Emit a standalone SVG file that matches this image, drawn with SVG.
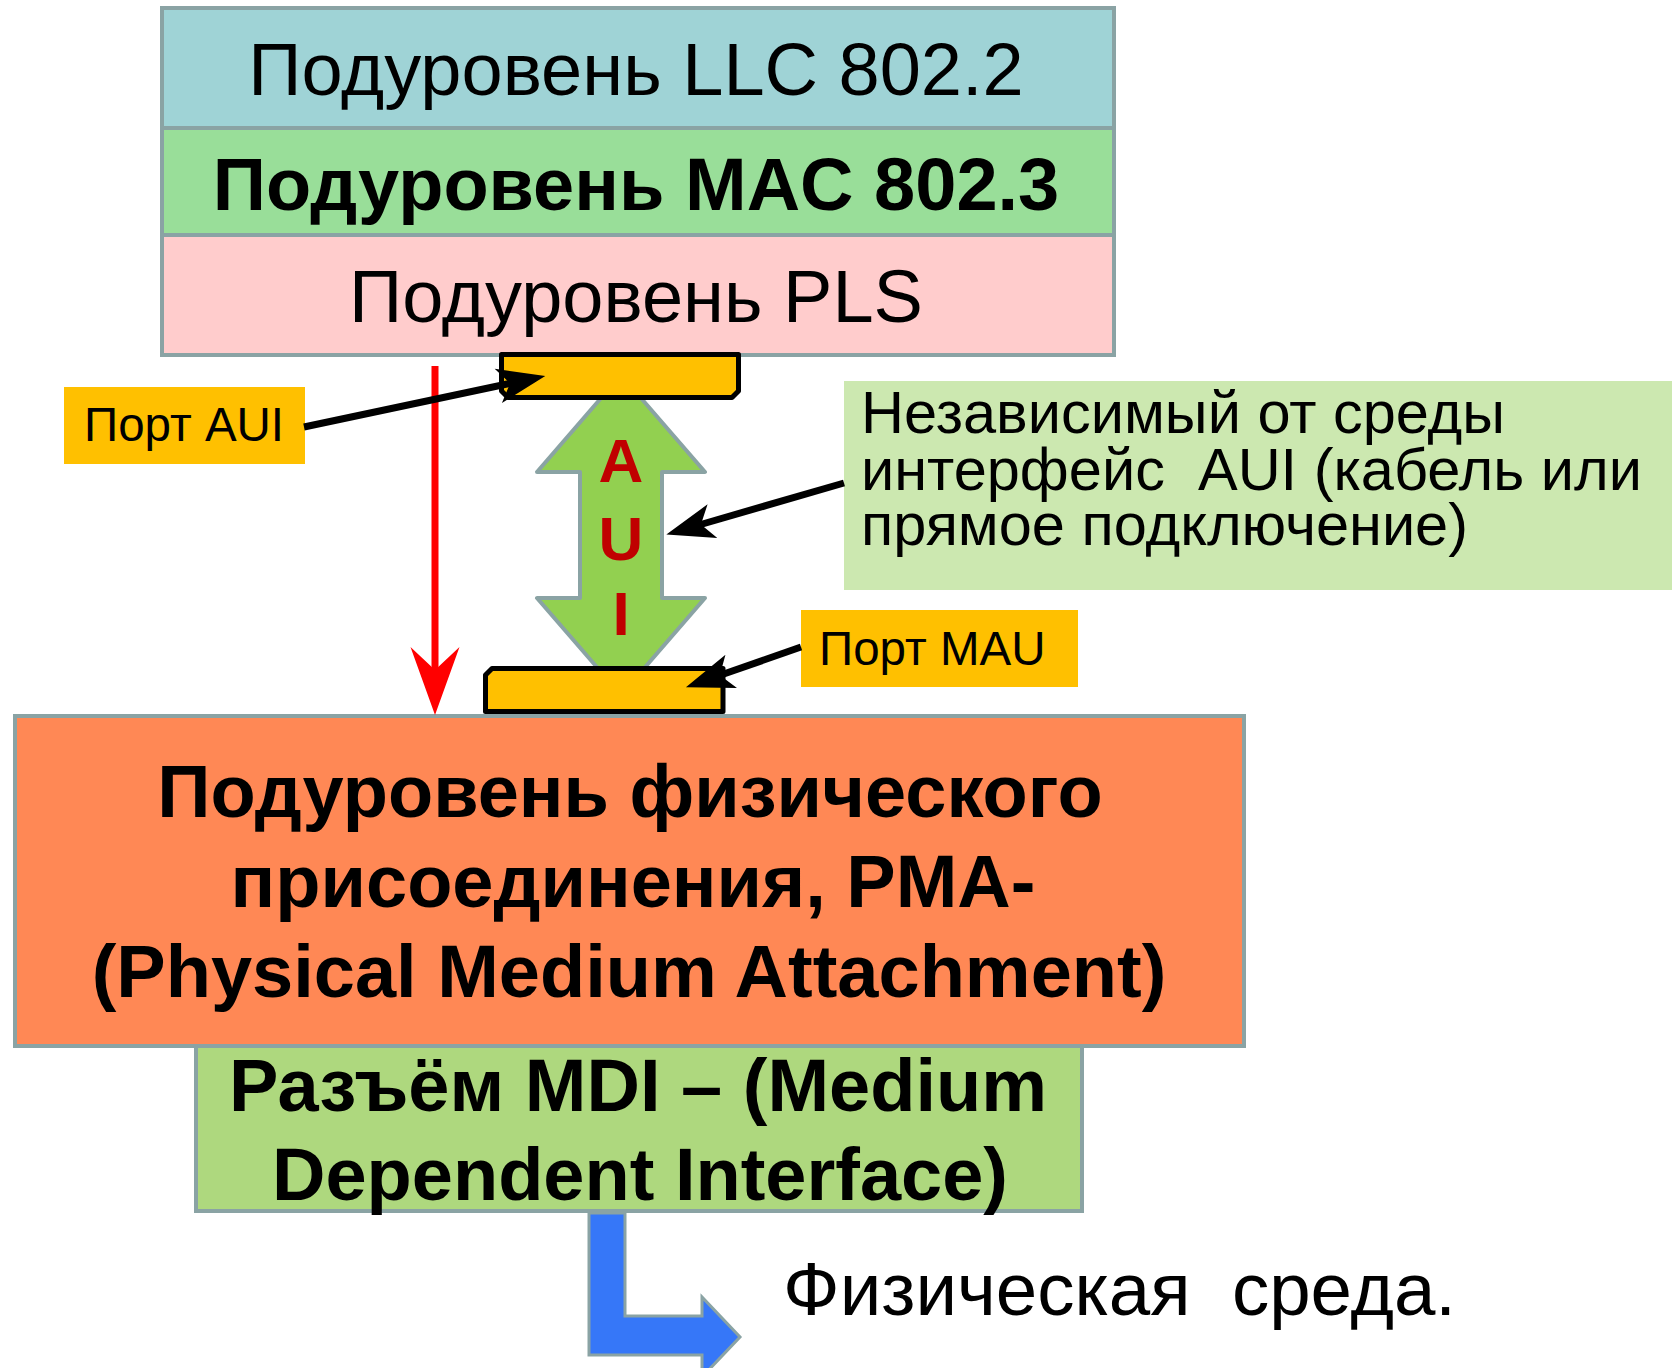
<svg xmlns="http://www.w3.org/2000/svg" width="1672" height="1368" viewBox="0 0 1672 1368">
<style>
text{font-family:"Liberation Sans",Arial,sans-serif;fill:#000}
.big{font-size:74px}
.b{font-weight:bold}
.mid{text-anchor:middle}
.box{stroke:#8AA3A4;stroke-width:4}
.port{fill:#FFC000;stroke:#000;stroke-width:5;stroke-linejoin:round}
.lbl{font-size:47.5px}
.co{font-size:59.5px}
.blk{stroke:#000;stroke-width:7;fill:none}
.aui{font-size:62px;font-weight:bold;fill:#C00000;text-anchor:middle}
</style>
<defs>
<marker id="ah" markerUnits="userSpaceOnUse" orient="auto" overflow="visible" markerWidth="10" markerHeight="10" refX="0" refY="0">
<path d="M34,0 L-14,-17.5 L-2,0 L-14,17.5 Z" fill="#000"/>
</marker>
<marker id="rh" markerUnits="userSpaceOnUse" orient="auto" overflow="visible" markerWidth="10" markerHeight="10" refX="0" refY="0">
<path d="M40,0 L-28,-24.5 L-5,0 L-28,24.5 Z" fill="#FF0000"/>
</marker>
</defs>

<g id="llc">
<rect class="box" x="162" y="8" width="952" height="120" fill="#9FD3D6"/>
<text class="big mid" x="636" y="95">Подуровень LLC 802.2</text>
</g>
<g id="mac">
<rect class="box" x="162" y="128" width="952" height="107" fill="#99DE99"/>
<text class="big b mid" x="636" y="210">Подуровень MAC 802.3</text>
</g>
<g id="pls">
<rect class="box" x="162" y="235" width="952" height="120" fill="#FFCCCC"/>
<text class="big mid" x="636" y="322">Подуровень PLS</text>
</g>

<g id="aui-arrow">
<polygon points="621,375 705,472 662,472 662,598 705,598 621,695 537,598 580,598 580,472 537,472" fill="#92D050" stroke="#8AA3A4" stroke-width="4" stroke-linejoin="round"/>
<text class="aui" x="621" y="482">A</text>
<text class="aui" x="621" y="560">U</text>
<text class="aui" x="621" y="635">I</text>
</g>

<g id="port-aui-bar">
<path class="port" d="M501.5,354.5 H738.5 V391 L732,397.5 H508 L501.5,391 Z"/>
</g>
<g id="port-mau-bar">
<path class="port" d="M492,668.5 H723 V711.5 H485.5 V675 Z"/>
</g>

<g id="pma">
<rect class="box" x="15" y="716" width="1229" height="330" fill="#FF8855"/>
<text class="big b mid" x="630" y="817">Подуровень физического</text>
<text class="big b mid" x="633" y="907">присоединения, PMA-</text>
<text class="big b mid" x="629" y="997">(Physical Medium Attachment)</text>
</g>

<g id="mdi">
<rect class="box" x="196" y="1046" width="886" height="165" fill="#AED87E"/>
<text class="big b mid" x="638" y="1111">Разъём MDI – (Medium</text>
<text class="big b mid" x="640" y="1200">Dependent Interface)</text>
</g>

<g id="port-aui-label">
<rect x="64" y="387" width="241" height="77" fill="#FFC000"/>
<text class="lbl" x="84" y="441">Порт AUI</text>
</g>

<g id="callout">
<rect x="844" y="381" width="828" height="209" fill="#CCE8B0"/>
<text class="co" x="861" y="433">Независимый от среды</text>
<text class="co" x="861" y="490" xml:space="preserve">интерфейс  AUI (кабель или</text>
<text class="co" x="861" y="545">прямое подключение)</text>
</g>

<g id="port-mau-label">
<rect x="801" y="610" width="277" height="77" fill="#FFC000"/>
<text class="lbl" x="819" y="665">Порт MAU</text>
</g>

<g id="medium">
<text font-size="74.5" x="783" y="1315" xml:space="preserve">Физическая  среда.</text>
</g>

<g id="connectors">
<path d="M435,366 V675" stroke="#FF0000" stroke-width="7" fill="none" marker-end="url(#rh)"/>
<path class="blk" d="M304,427 L512,383" marker-end="url(#ah)"/>
<path class="blk" d="M844,483 L699,525" marker-end="url(#ah)"/>
<path class="blk" d="M801,647 L718,676" marker-end="url(#ah)"/>
<polygon points="589,1213 625,1213 625,1316 702,1316 702,1297 740,1337 702,1377 702,1355 589,1355" fill="#3677F8" stroke="#8AA3A4" stroke-width="3"/>
</g>
</svg>
